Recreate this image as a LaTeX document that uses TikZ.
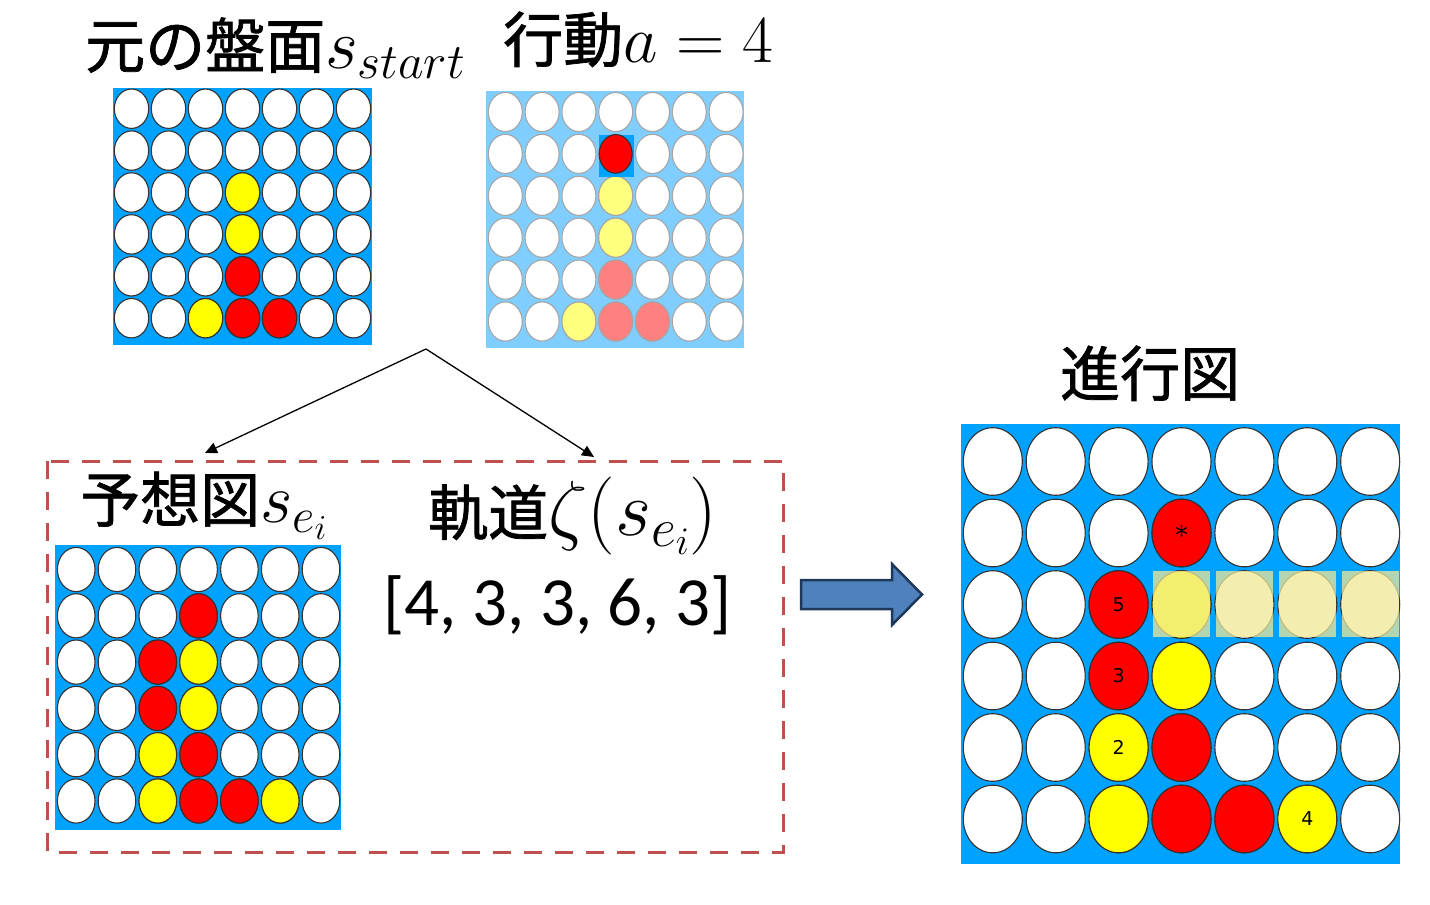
\documentclass[tikz,border=0pt]{standalone}
\usepackage{fix-cm}
\usepackage{fontspec}
\newfontfamily\jp[FakeBold=1.2]{Noto Sans CJK JP}
\newfontfamily\calfont{Carlito}
\newfontfamily\numfont{DejaVu Sans}
\usetikzlibrary{arrows.meta}
\definecolor{bblue}{RGB}{0,162,255}
\definecolor{lblue}{RGB}{128,206,255}
\definecolor{cred}{RGB}{255,0,0}
\definecolor{cyel}{RGB}{255,255,0}
\definecolor{lred}{RGB}{255,128,128}
\definecolor{lyel}{RGB}{255,255,128}
\definecolor{dashred}{RGB}{192,80,77}
\definecolor{arrfill}{RGB}{79,129,189}
\definecolor{arrline}{RGB}{30,56,90}
\definecolor{hl}{RGB}{240,232,150}
\definecolor{cedge}{RGB}{50,50,50}
\definecolor{gedge}{RGB}{165,165,165}
\newcommand\bigmath[2]{{\fontsize{#1}{#1}\selectfont$#2$}}
\tikzset{
  title/.style={anchor=base west, inner sep=0pt, font=\jp\fontsize{60}{64}\selectfont},
  numlab/.style={inner sep=0pt, font=\numfont\fontsize{19}{21}\selectfont},
  thinarrow/.style={line width=1.3pt, -{Triangle[length=12pt,width=11pt]}},
}
\newcommand\drawboard[8]{%
  \foreach \c in {1,...,7}{\foreach \r in {1,...,6}{
    \draw[line width=1.1pt,draw=#7,fill=white] ({#1+#3*(\c-1)},{#2+#4*(\r-1)}) ellipse [x radius=#5pt, y radius=#6pt];}}
  \foreach \c/\r/\col in {#8}{
    \draw[line width=1.1pt,draw=#7,fill=\col] ({#1+#3*(\c-1)},{#2+#4*(\r-1)}) ellipse [x radius=#5pt, y radius=#6pt];}%
}
\begin{document}
\begin{tikzpicture}[x=1pt,y=-1pt]
\useasboundingbox (0,0) rectangle (1430,905);
% titles
\node[title] (t1) at (85,68) {元の盤面\bigmath{71}{s_{start}}};
\node[title] (t2) at (503,62) {行動\bigmath{67}{a = 4}};
\node[title] (t3) at (80,522) {予想図\bigmath{70}{s_{e_i}}};
\node[title] (t4) at (428,535) {軌道\bigmath{78}{\zeta(s_{e_i})}};
\node[anchor=base west, inner sep=0pt, font=\calfont\fontsize{69}{72}\selectfont] (traj) at (383,625) {[4, 3, 3, 6, 3]};
\node[title] (t5) at (1060,396) {進行図};
% board 1
\fill[bblue] (113,88) rectangle (372,345);
\drawboard{131.5}{108.7}{37}{41.9}{17.2}{19.7}{cedge}{4/3/cyel,4/4/cyel,4/5/cred,3/6/cyel,4/6/cred,5/6/cred}
% board 2
\fill[lblue] (486,91) rectangle (744,348);
\drawboard{505.3}{112}{36.8}{41.9}{17}{19.6}{gedge}{4/3/lyel,4/4/lyel,4/5/lred,3/6/lyel,4/6/lred,5/6/lred}
\fill[bblue] (599,135) rectangle (634,177);
\draw[line width=1.1pt,draw=cedge,fill=cred] (615.7,153.9) ellipse [x radius=16.5pt, y radius=19.3pt];
% board 3
\fill[bblue] (55,545) rectangle (340.5,830);
\drawboard{76.2}{569.5}{40.8}{46.3}{18.8}{22.1}{cedge}{4/2/cred,3/3/cred,4/3/cyel,3/4/cred,4/4/cyel,3/5/cyel,4/5/cred,3/6/cyel,4/6/cred,5/6/cred,6/6/cyel}
% board 4
\fill[bblue] (961,424) rectangle (1400,864);
\drawboard{992.8}{461.5}{62.9}{71.5}{29.5}{33.8}{cedge}{4/2/cred,3/3/cred,4/3/cyel,3/4/cred,4/4/cyel,3/5/cyel,4/5/cred,3/6/cyel,4/6/cred,5/6/cred,6/6/cyel}
\foreach \c in {4,...,7}{
  \fill[hl, fill opacity=0.75] ({992.8+62.9*(\c-1)-28.5},571) rectangle ++(57,66);}
\node[numlab, font=\numfont\fontsize{26}{28}\selectfont] (ls) at (1181.5,535) {*\vphantom{0}};
\node[numlab] (l5) at (1118.6,604.5) {5};
\node[numlab] (l3) at (1118.6,676) {3};
\node[numlab] (l2) at (1118.6,747.5) {2};
\node[numlab] (l4) at (1307.3,819) {4};
% dashed box
\draw[dashred, line width=3pt, dash pattern=on 17.7pt off 13.3pt] (47,461) rectangle (783,852);
% arrows
\coordinate (apex) at (426,349);
\coordinate (tipL) at (205,453);
\coordinate (tipR) at (594,457);
\draw[thinarrow] (apex) -- (tipL);
\draw[thinarrow] (apex) -- (tipR);
% block arrow
\draw[fill=arrfill, draw=arrline, line width=2.5pt, line join=miter]
  (801,580) -- (892,580) -- (892,564) -- (922,594.5) -- (892,625) -- (892,609) -- (801,609) -- cycle;
\end{tikzpicture}
\end{document}
